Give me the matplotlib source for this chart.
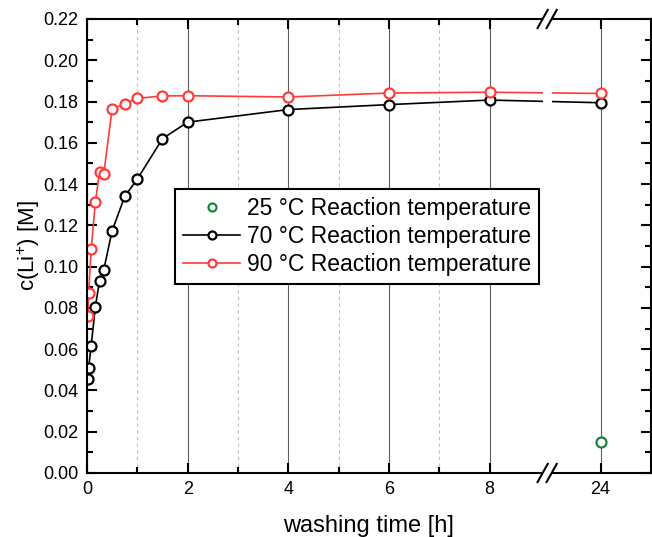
import numpy as np
import matplotlib
matplotlib.use('Agg')
import matplotlib.pyplot as plt
from matplotlib.ticker import FixedLocator, NullFormatter

plt.rcParams['font.family'] = ['Liberation Sans', 'DejaVu Sans']
plt.rcParams['mathtext.default'] = 'regular'

# washing times in hours
time_h = [1/60, 2/60, 5/60, 10/60, 15/60, 20/60, 0.5, 0.75, 1, 1.5, 2, 4, 6, 8, 24]
# c(Li+) [M]
c_70 = [0.0457, 0.0510, 0.0617, 0.0806, 0.0932, 0.0985, 0.1174, 0.1340,
        0.1424, 0.1620, 0.1700, 0.1761, 0.1785, 0.1807, 0.1794]
c_90 = [0.0762, 0.0872, 0.1085, 0.1312, 0.1460, 0.1449, 0.1765, 0.1788,
        0.1815, 0.1827, 0.1828, 0.1822, 0.1841, 0.1845, 0.1839]
time_25 = [24]
c_25 = [0.0148]

labels = ['25 °C Reaction temperature', '70 °C Reaction temperature',
          '90 °C Reaction temperature']
x_major = [0, 2, 4, 6, 8, 24]
x_minor = [1, 3, 5, 7]

# broken x axis: 9.09 .. 22.9 squeezed away
LO, HI, K = 9.09, 22.9, 1e-3
GAP = LO + (HI - LO) * K


def fwd(t):
    t = np.asarray(t, float)
    return np.where(t <= LO, t, np.where(t >= HI, t - (HI - LO) * (1 - K), LO + (t - LO) * K))


def inv(u):
    u = np.asarray(u, float)
    return np.where(u <= LO, u, np.where(u >= GAP, u + (HI - LO) * (1 - K), LO + (u - LO) / K))


fig = plt.figure(figsize=(6.52, 5.37), dpi=100)
ax = fig.add_axes([0.1334, 0.1192, 0.865, 0.8455])
ax.set_xscale('function', functions=(fwd, inv))

red = '#ff3b3b'
green = '#12873a'
mk = dict(marker='o', markersize=7.2, markerfacecolor='white', markeredgewidth=1.6)
ax.plot(time_25, c_25, linestyle='none', color=green, label=labels[0], zorder=2, **mk)
ax.plot(time_h, c_70, color='black', lw=1.2, label=labels[1], zorder=2, **mk)
ax.plot(time_h, c_90, color=red, lw=1.2, label=labels[2], zorder=2, **mk)

ax.set_xlim(0, 25)
ax.set_ylim(0, 0.22)
ax.xaxis.set_major_locator(FixedLocator(x_major))
ax.xaxis.set_minor_locator(FixedLocator(x_minor))
ax.xaxis.set_minor_formatter(NullFormatter())
ax.set_xticklabels([str(v) for v in x_major])
ax.set_yticks(np.arange(0, 0.2201, 0.02))
ax.set_yticks(np.arange(0.01, 0.22, 0.02), minor=True)
ax.set_yticklabels(['%.2f' % v for v in np.arange(0, 0.2201, 0.02)])

ax.tick_params(which='both', direction='in', top=True, right=True, width=1.5,
               labelsize=13, color='black')
ax.tick_params(which='major', length=7, pad=6)
ax.tick_params(which='minor', length=4)

ax.grid(which='major', axis='x', color='#5e5e5e', lw=0.8, zorder=1)
ax.grid(which='minor', axis='x', color='#c0c0c0', lw=0.8, linestyle=(0, (3, 3)), zorder=1)
ax.set_axisbelow(True)

for s in ax.spines.values():
    s.set_linewidth(1.5)

ax.set_xlabel('washing time [h]', fontsize=17, labelpad=12)
ax.set_ylabel('c(Li$^{+}$) [M]', fontsize=16, labelpad=1)

# break marks
xb = float(fwd(LO) + fwd(HI)) / 2 / float(fwd(25)) + 0.004
ax.fill_between([xb - 0.008, xb + 0.008], -0.01, 1.01, color='white',
                transform=ax.transAxes, clip_on=False, zorder=3, lw=0)
for yb in (0, 1):
    for dx in (-0.008, 0.008):
        ax.plot([xb + dx - 0.009, xb + dx + 0.009], [yb - 0.02, yb + 0.02],
                color='black', lw=1.5, transform=ax.transAxes, clip_on=False, zorder=4)

leg = ax.legend(loc='upper left', bbox_to_anchor=(0.156, 0.625), borderaxespad=0,
                fontsize=16.5, frameon=True, fancybox=False, framealpha=1,
                edgecolor='black', handlelength=2.5, handletextpad=0.3,
                labelspacing=0.22, borderpad=0.35, markerscale=0.8)
leg.get_frame().set_linewidth(1.5)

fig.savefig('out.png', dpi=100)
